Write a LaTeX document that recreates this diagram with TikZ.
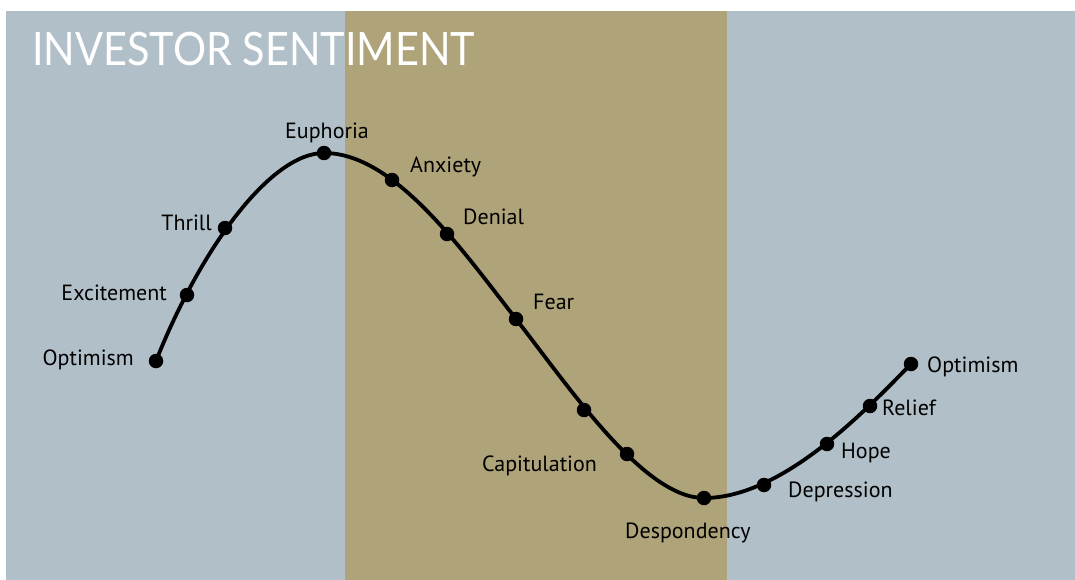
\documentclass[tikz,border=0pt]{standalone}
\usepackage{fontspec}
\setmainfont{PT Sans}
\newfontfamily\titlefont{Lato}
\usetikzlibrary{positioning}
\definecolor{steel}{RGB}{177,191,200}
\definecolor{khaki}{RGB}{175,163,122}
\tikzset{
  stage/.style={circle, fill=black, inner sep=0pt, minimum size=14.5pt},
  stagelabel/.style={font=\fontsize{22}{24}\selectfont, text=black, inner sep=0pt},
  cycleline/.style={line width=3.8pt, line cap=round},
  headline/.style={font=\titlefont\fontsize{46}{50}\selectfont, text=white, inner sep=0pt}
}

\begin{document}
\begin{tikzpicture}[x=1pt, y=-1pt]
  \useasboundingbox (0,0) rectangle (1075,580);
  % panels
  \fill[steel] (6,11) rectangle (1075,580);
  \fill[khaki] (345,11) rectangle (727,580);
  \node[headline, anchor=base west] (title) at (32,66) {\scalebox{0.9}[1]{INVESTOR SENTIMENT}};

  % points along the cycle
  \coordinate (s1) at (156,361);
  \coordinate (s2) at (187,295);
  \coordinate (s3) at (225,228);
  \coordinate (s4) at (324,153);
  \coordinate (s5) at (392,180);
  \coordinate (s6) at (447,234);
  \coordinate (s7) at (516,319);
  \coordinate (s8) at (584,410);
  \coordinate (s9) at (627,454);
  \coordinate (s10) at (704,498);
  \coordinate (s11) at (764,485);
  \coordinate (s12) at (827,444);
  \coordinate (s13) at (870,406);
  \coordinate (s14) at (911,364);

  % the curve: rise, fall, recovery
  \draw[cycleline] (s1) .. controls +(44,-111) and +(-54,0) .. (s4)
    .. controls +(70,0) and +(-55.3,-71) .. (s7)
    .. controls +(55.3,71) and +(-60,0) .. (s10)
    .. controls +(80,0) and +(-42,42.6) .. (s14);
  \foreach \s in {1,...,14}
    \node[stage] (d\s) at (s\s) {};

  % labels
  \node[stagelabel, anchor=base east] (l1) at (134,365) {Optimism};
  \node[stagelabel, anchor=base east] (l2) at (167,300) {Excitement};
  \node[stagelabel, anchor=base east] (l3) at (212,230) {Thrill};
  \node[stagelabel, anchor=base] (l4) at (327,139) {Euphoria};
  \node[stagelabel, anchor=base west] (l5) at (410,173) {Anxiety};
  \node[stagelabel, anchor=base west] (l6) at (463,224) {Denial};
  \node[stagelabel, anchor=base west] (l7) at (533,309) {Fear};
  \node[stagelabel, anchor=base west] (l8) at (482,471) {Capitulation};
  \node[stagelabel, anchor=base west] (l9) at (625,538) {Despondency};
  \node[stagelabel, anchor=base west] (l10) at (788,497) {Depression};
  \node[stagelabel, anchor=base west] (l11) at (841,458) {Hope};
  \node[stagelabel, anchor=base west] (l12) at (882,415) {Relief};
  \node[stagelabel, anchor=base west] (l13) at (927,372) {Optimism};
\end{tikzpicture}
\end{document}
